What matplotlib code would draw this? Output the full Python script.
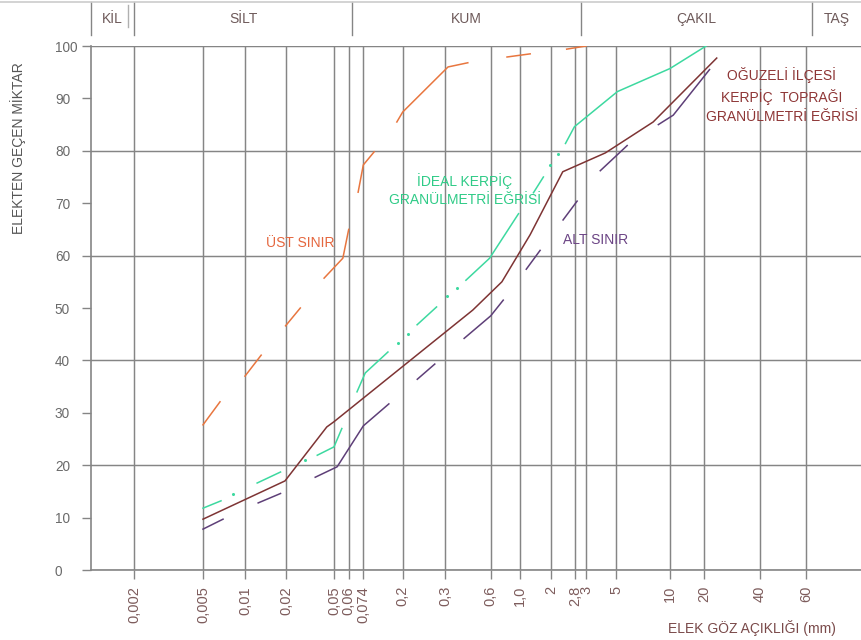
import numpy as np
import matplotlib
matplotlib.use('Agg')
import matplotlib.pyplot as plt
from matplotlib.lines import Line2D
from matplotlib.transforms import blended_transform_factory

plt.rcParams['font.family'] = ['Liberation Sans', 'DejaVu Sans']

nan = np.nan

# elek göz açıklıkları (mm) ve etiketleri
tick_mm = [0.002, 0.005, 0.01, 0.02, 0.05, 0.06, 0.074, 0.2, 0.3, 0.6, 1.0,
           2, 2.8, 3, 5, 10, 20, 40, 60]
tick_labels = ['0,002', '0,005', '0,01', '0,02', '0,05', '0,06', '0,074', '0,2',
               '0,3', '0,6', '1,0', '2', '2,8', '3', '5', '10', '20', '40', '60']
# eksen elle cizilmis, logaritmik degil: isaretlerin eksen boyunca yeri (0..771)
tick_pos = [43, 112, 154, 195.5, 243, 257.7, 272.3, 311.7, 354, 399.7, 429.3,
            460, 484.5, 495, 525.5, 579, 613.5, 669, 715.5]
axis_len = 771

# zemin sinifi sinirlari (mm)
band_names = ['KİL', 'SİLT', 'KUM', 'ÇAKIL', 'TAŞ']
band_edges = [0.002, 0.063, 2.9, 63]

# egriler (mm, % gecen); nan = cizgide bosluk
ust_x = [0.005, 0.00662, nan, 0.01, 0.0131, nan, 0.0197, 0.0261, nan, 0.0413, 0.0558, 0.06,
         nan, 0.0687, 0.074, 0.0973, nan, 0.1725, 0.2, 0.314, 0.424, nan, 0.795, 1.25,
         nan, 2.48, 3.0]
ust_y = [27.7, 32.1, nan, 37, 41, nan, 46.6, 50, nan, 55.7, 59.5, 65,
         nan, 72.1, 77.3, 79.8, nan, 85.5, 87.4, 96, 96.8, nan, 97.9, 98.5,
         nan, 99.4, 100]

ideal_x = [0.005, 0.00673, nan, 0.01225, 0.0181, nan, 0.0362, 0.05, 0.0551, nan,
           0.0676, 0.0777, 0.1378, nan, 0.2296, 0.2767, nan, 0.412, 0.59, 0.97, nan,
           1.346, 1.684, nan, 2.44, 2.76, 5.06, 10, 20.4]
ideal_y = [11.8, 13.2, nan, 16.6, 18.7, nan, 21.9, 23.5, 27, nan,
           34, 37.6, 41.6, nan, 46.8, 50.2, nan, 55.3, 59.5, 68, nan,
           72, 75, nan, 81.4, 84.6, 91.3, 95.7, 100]
ideal_dot_x = [0.0082, 0.0287, 0.1765, 0.2098, 0.3077, 0.358, 1.955, 2.2]
ideal_dot_y = [14.5, 21, 43.3, 45, 52.2, 53.8, 77.3, 79.4]

oguzeli_x = [0.005, 0.0195, 0.0435, 0.05, 0.457, 0.728, 1.25, 2.35, 4.15, 8.04, 23.3]
oguzeli_y = [9.7, 17, 27.3, 28.3, 49.6, 55, 64, 76, 79.6, 85.5, 97.7]

alt_x = [0.005, 0.00696, nan, 0.01246, 0.0181, nan, 0.0348, 0.052, 0.074, 0.141, nan,
         0.23, 0.272, nan, 0.401, 0.6, 0.745, nan, 1.144, 1.564, nan, 2.36, 2.83,
         nan, 3.81, 5.74, nan, 8.6, 10.67, 21.3]
alt_y = [7.8, 9.7, nan, 12.8, 14.6, nan, 17.7, 19.7, 27.5, 31.7, nan,
         36.4, 39.3, nan, 44.2, 48.5, 51.5, nan, 57.4, 61, nan, 66.8, 70.4,
         nan, 76.2, 81, nan, 85, 86.8, 95.5]

# parca parca dogrusal (log mm) olcek
lt = np.log10(tick_mm)
s0 = (tick_pos[1] - tick_pos[0]) / (lt[1] - lt[0])
s1 = (tick_pos[-1] - tick_pos[-2]) / (lt[-1] - lt[-2])
anc_l = np.concatenate([[lt[0] - 5], lt, [lt[-1] + 5]])
anc_p = np.concatenate([[tick_pos[0] - 5 * s0], tick_pos, [tick_pos[-1] + 5 * s1]])


def forward(x):
    x = np.asarray(x, float)
    return np.interp(np.log10(np.clip(x, 1e-9, None)), anc_l, anc_p)


def inverse(p):
    return 10 ** np.interp(np.asarray(p, float), anc_p, anc_l)


grid_c = '#858585'
fig = plt.figure(figsize=(8.62, 6.4), dpi=100)
ax = fig.add_axes([91 / 862, 70 / 640, 771 / 862, 524 / 640])
ax.set_xscale('function', functions=(forward, inverse))
ax.set_xlim(inverse(0), inverse(axis_len))
ax.set_ylim(0, 100)

for s in ['top', 'right']:
    ax.spines[s].set_visible(False)
for s in ['left', 'bottom']:
    ax.spines[s].set_color(grid_c)
    ax.spines[s].set_linewidth(1.2)

ax.set_xticks(tick_mm, tick_labels, rotation=90)
ax.minorticks_off()
ax.set_yticks(range(0, 101, 20))
ax.set_yticks(range(10, 100, 20), [str(v) for v in range(10, 100, 20)], minor=True)
ax.tick_params(axis='x', length=6.5, width=1, color=grid_c, labelcolor='#7d5c5c',
               labelsize=10.5, pad=5)
ax.tick_params(axis='y', which='both', length=6.5, width=1, color=grid_c,
               labelcolor='#6a6a6a', labelsize=9.8, pad=19.5)
for lab in ax.get_yticklabels() + ax.get_yticklabels(minor=True):
    lab.set_ha('left')
ax.grid(True, which='major', color=grid_c, linewidth=1.05)

# egriler
ax.plot(ust_x, ust_y, color='#e8763f', lw=1.1)
ax.plot(ideal_x, ideal_y, color='#3dd9a0', lw=1.1)
ax.plot(ideal_dot_x, ideal_dot_y, ls='none', marker='o', ms=1.2, color='#3dd9a0')
ax.plot(oguzeli_x, oguzeli_y, color='#7e3434', lw=1.1)
ax.plot(alt_x, alt_y, color='#5e3f78', lw=1.1)

ax.text(0.271, 0.624, 'ÜST SINIR', transform=ax.transAxes, color='#e5673f',
        fontsize=10, ha='center', va='center')
ax.text(0.485, 0.725, 'İDEAL KERPİÇ\nGRANÜLMETRİ EĞRİSİ', transform=ax.transAxes,
        color='#2fcb87', fontsize=10, ha='center', va='center', linespacing=1.3)
ax.text(0.654, 0.630, 'ALT SINIR', transform=ax.transAxes, color='#6c4585',
        fontsize=10, ha='center', va='center')
ax.text(0.896, 0.905, 'OĞUZELİ İLÇESİ\nKERPİÇ  TOPRAĞI\nGRANÜLMETRİ EĞRİSİ',
        transform=ax.transAxes, color='#8e3636', fontsize=10, ha='center',
        va='center', linespacing=1.45)

# ust bant: zemin siniflari
bt = blended_transform_factory(ax.transData, fig.transFigure)
y_top, y_bot = 1 - 2 / 640, 1 - 35 / 640
x_left = inverse(0)
x_right = inverse(axis_len)
for e in [x_left] + band_edges:
    ax.plot([e, e], [y_top, y_bot], transform=bt, color=grid_c, lw=1.0, clip_on=False)
kil_mark = inverse(forward(0.002) - 6)
ax.plot([kil_mark, kil_mark], [1 - 5 / 640, 1 - 27 / 640], transform=bt,
        color='#b0b0b0', lw=1.0, clip_on=False)
fig.add_artist(Line2D([0, 1], [1 - 1.5 / 640] * 2, color='#cccccc', lw=1.2))
edges = [x_left] + band_edges + [x_right]
for name, a, b in zip(band_names, edges[:-1], edges[1:]):
    mid = inverse((forward(a) + forward(b)) / 2)
    ax.text(mid, 1 - 19 / 640, name, transform=bt, ha='center', va='center',
            fontsize=10, color='#6e5a5a')

fig.text(18 / 862, 1 - 148 / 640, 'ELEKTEN GEÇEN MİKTAR', rotation=90,
         ha='center', va='center', fontsize=10, color='#555555')
fig.text(752 / 862, 1 - 628 / 640, 'ELEK GÖZ AÇIKLIĞI (mm)', ha='center',
         va='center', fontsize=10, color='#7a4a4a')

fig.savefig('out.png', dpi=100)
